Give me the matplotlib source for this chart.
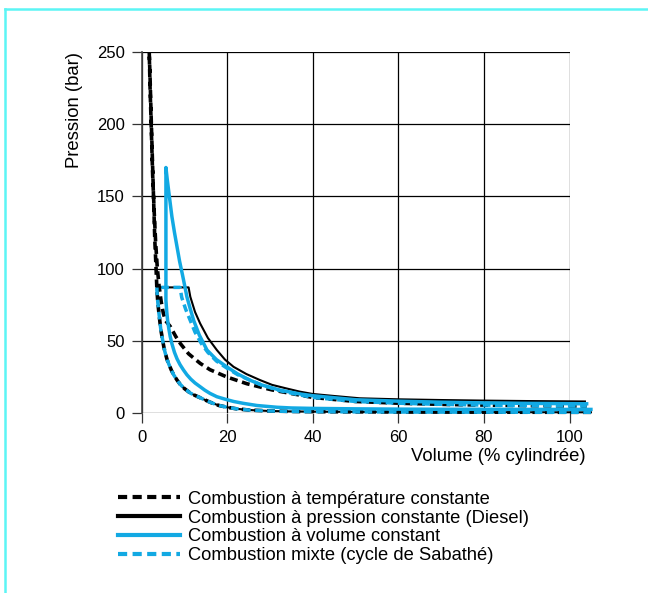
import matplotlib
matplotlib.use("Agg")
import matplotlib.pyplot as plt
from matplotlib.lines import Line2D

plt.rcParams['font.family'] = ['Liberation Sans', 'DejaVu Sans']

CYAN = '#12a9e3'

# compression curve shared by the Diesel, isothermal and mixed cycles (V in % cylindree, P in bar)
v_comp = [105, 90, 80, 70, 60, 50, 40, 35, 30, 25, 22, 20, 18, 16, 14, 12.5, 11.4, 10, 9, 8.3,
          7.5, 7, 6.5, 6, 5.5, 5.2, 4.8, 4.5, 4.3, 4.0, 3.8, 3.6]
p_comp = [0.5, 0.55, 0.6, 0.65, 0.7, 0.8, 0.95, 1.1, 1.4, 2.1, 3.0, 4.0, 5.3, 7.5, 10.2, 12.2, 13.8, 17, 20, 22.8,
          26.5, 29.5, 33, 36.7, 42, 46, 52.8, 58, 63, 71, 77, 85]

# isothermal cycle: top of compression + expansion
v_iso_top = [3.4, 3.1, 2.8, 2.5, 2.2, 2.0, 1.8]
p_iso_top = [100, 120, 150, 180, 210, 232, 250]
v_iso_exp = [1.8, 2.0, 2.3, 2.6, 2.95, 3.3, 3.7, 4.1, 4.6, 5.1, 5.6, 6.7, 8, 9.1, 11, 13.7, 16, 19.9,
             24.6, 30.5, 35, 40, 50, 60, 70, 80, 90, 104]
p_iso_exp = [250, 225, 195, 165, 140, 118, 100, 88, 77, 69, 64, 60, 53, 48, 41, 34.4, 30, 25,
             20.3, 16, 13.5, 10.8, 8, 6.8, 6.0, 5.5, 5.1, 4.8]

# Diesel: constant pressure then expansion
v_diesel = [3.6, 11, 11.4, 12.5, 13.7, 15.5, 17.6, 19.5, 21.5, 24.5, 27.7, 30.5, 33.9, 37, 40, 45,
            51, 60, 70, 80, 90, 103.6]
p_diesel = [87, 87, 80.5, 70, 62, 52, 43.6, 37, 32, 27, 22.8, 19.5, 17, 14.8, 13.2, 11.8,
            10.2, 9.5, 9.0, 8.6, 8.3, 8.0]

# constant volume: own compression, vertical rise, expansion
v_cv_comp = [105, 90, 80, 70, 60, 50, 40, 35, 31.6, 27, 23.8, 21.5, 19.5, 17.6, 16, 14.8, 13.7, 12.5,
             11.5, 10.6, 9.8, 9.0, 8.3, 7.7, 7.1, 6.7, 6.4, 6.1, 5.9, 5.7]
p_cv_comp = [2.5, 2.5, 2.6, 2.6, 2.7, 2.9, 3.2, 3.5, 4.0, 5.2, 6.7, 8.0, 9.6, 11.3, 13.6, 15.8, 18.2, 20.8,
             23.5, 26.5, 29.8, 33.5, 37.5, 42, 48, 53, 58, 64, 70, 78]
v_cv_exp = [5.7, 6.0, 6.5, 7.1, 7.7, 8.3, 8.9, 9.5, 10.1, 10.6, 11.4, 12.2, 13.5, 15.3, 17.5, 19.9,
            22.5, 25.3, 28, 32.3, 37, 40, 50, 60, 70, 80, 90, 104]
p_cv_exp = [170, 162, 150, 136, 125, 115, 105, 96.7, 88, 80.5, 72, 64, 54, 43.6, 37, 32,
            27, 22.8, 19.5, 15.9, 13.2, 12, 9.2, 8.2, 7.5, 7.0, 6.7, 6.4]

# mixed (Sabathe): constant volume + constant pressure, then expansion
v_mix = [3.6, 3.6, 9.0, 9.4, 10.3, 11.4, 12.5, 14, 15.5, 17.5, 20, 22.5, 25.3, 28, 32.3, 37, 40,
         50, 60, 70, 80, 90, 104]
p_mix = [85, 87, 87, 80, 72, 64, 56, 48, 42, 36, 31, 26.5, 22.8, 19.5, 15.5, 12.5, 10.8,
         8.0, 6.8, 6.0, 5.5, 5.1, 4.8]

labels = ["Combustion à température constante",
          "Combustion à pression constante (Diesel)",
          "Combustion à volume constant",
          "Combustion mixte (cycle de Sabathé)"]

fig = plt.figure(figsize=(6.48, 5.93), dpi=100)
ax = fig.add_axes([0.2184, 0.3035, 0.6605, 0.6088])

l_diesel, = ax.plot(v_comp + v_diesel, p_comp + p_diesel, color='black', lw=1.5,
                    clip_on=False, zorder=3)
l_iso, = ax.plot(v_comp + v_iso_top + v_iso_exp, p_comp + p_iso_top + p_iso_exp, color='black',
                 lw=2.6, dashes=(2.2, 1.3), clip_on=False, zorder=3)
l_cv, = ax.plot(v_cv_comp + v_cv_exp, p_cv_comp + p_cv_exp, color=CYAN, lw=2.5,
                clip_on=False, zorder=4)
l_mix, = ax.plot(v_comp + v_mix, p_comp + p_mix, color=CYAN, lw=2.5, dashes=(2.2, 1.3),
                 clip_on=False, zorder=5)

ax.set_xlim(0, 100)
ax.set_ylim(0, 250)
ax.set_xticks([0, 20, 40, 60, 80, 100])
ax.set_yticks([0, 50, 100, 150, 200, 250])
ax.grid(True, color='black', lw=0.9)
ax.set_axisbelow(True)
for s in ['top', 'right', 'bottom']:
    ax.spines[s].set_visible(False)
ax.spines['left'].set_color('#444444')
ax.spines['left'].set_linewidth(1.2)
ax.tick_params(length=7, width=0.9, color='#333333', labelsize=12, pad=5)

ax.set_xlabel("Volume (% cylindrée)", fontsize=13.3, ha='right', va='center')
ax.xaxis.set_label_coords(1.038, -0.12)
ax.set_ylabel("Pression (bar)", fontsize=13.3, loc='top', labelpad=10)

leg = fig.legend([l_iso, l_diesel, l_cv, l_mix], labels, loc='upper left',
                 bbox_to_anchor=(0.182, 0.1725), frameon=False, fontsize=13.2,
                 handlelength=3.4, handletextpad=0.4, labelspacing=0.1,
                 borderpad=0, borderaxespad=0)
for ln in leg.get_lines():
    ln.set_linewidth(3.0)

# thin cyan frame on the top and left edges
fig.add_artist(Line2D([5 / 648, 1], [1 - 9 / 593, 1 - 9 / 593], color='#5cf5f5', lw=1.8))
fig.add_artist(Line2D([5 / 648, 5 / 648], [0, 1 - 9 / 593], color='#5cf5f5', lw=1.8))

fig.savefig("out.png", dpi=100)
